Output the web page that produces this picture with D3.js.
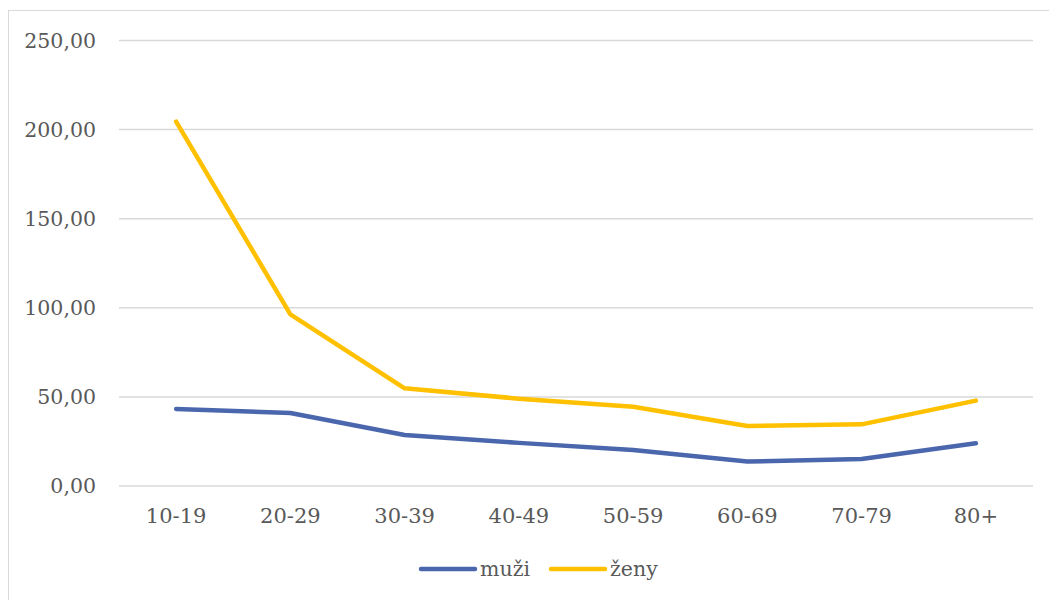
<!DOCTYPE html>
<html>
<head>
<meta charset="utf-8">
<script src="https://cdn.jsdelivr.net/npm/d3@7/dist/d3.min.js"></script>
<style>
  body { margin: 0; background: #fff; }
  text { font-family: "DejaVu Serif", serif; fill: #595959; }
</style>
</head>
<body>
<script>
// data
var ageGroups = ['10-19', '20-29', '30-39', '40-49', '50-59', '60-69', '70-79', '80+'];
var muzi = [43.2, 41.0, 28.6, 24.2, 20.2, 13.7, 15.1, 24.0];
var zeny = [204.5, 96.3, 54.8, 49.0, 44.5, 33.7, 34.6, 47.9];
var yTicks = [0, 50, 100, 150, 200, 250];

var width = 1049, height = 600;
var margin = { left: 119, right: 16, top: 40.5, bottom: 114 };

var svg = d3.select('body').append('svg')
    .attr('width', width)
    .attr('height', height);

// outer chart border
svg.append('rect')
    .attr('x', 8.5).attr('y', 10.5)
    .attr('width', 1100).attr('height', 700)
    .attr('fill', 'none')
    .attr('stroke', '#d9d9d9')
    .attr('stroke-width', 1);

var x = d3.scaleBand()
    .domain(ageGroups)
    .range([margin.left, width - margin.right]);

var y = d3.scaleLinear()
    .domain([0, 250])
    .range([height - margin.bottom, margin.top]);

// gridlines
svg.append('g')
    .selectAll('line')
    .data(yTicks)
    .enter().append('line')
    .attr('x1', margin.left)
    .attr('x2', width - margin.right)
    .attr('y1', function (d) { return y(d); })
    .attr('y2', function (d) { return y(d); })
    .attr('stroke', '#d9d9d9')
    .attr('stroke-width', 1.5);

// y axis labels
var fmt = function (d) { return d3.format('.2f')(d).replace('.', ','); };
var yAxis = d3.axisLeft(y).tickValues(yTicks).tickFormat(fmt).tickSize(0).tickPadding(23);
var gy = svg.append('g')
    .attr('transform', 'translate(' + margin.left + ',0)')
    .call(yAxis);
gy.select('.domain').remove();
gy.selectAll('text')
    .style('font-family', '"DejaVu Serif", serif')
    .style('font-size', '20.5px')
    .attr('fill', '#595959');

// x axis labels
var xAxis = d3.axisBottom(x).tickSize(0).tickPadding(22);
var gx = svg.append('g')
    .attr('transform', 'translate(0,' + y(0) + ')')
    .call(xAxis);
gx.select('.domain').remove();
gx.selectAll('text')
    .style('font-family', '"DejaVu Serif", serif')
    .style('font-size', '21px')
    .attr('fill', '#595959');

var line = d3.line()
    .x(function (d, i) { return x(ageGroups[i]) + x.bandwidth() / 2; })
    .y(function (d) { return y(d); });

var series = [
    { name: 'muži', values: muzi, color: '#4A66AC' },
    { name: 'ženy', values: zeny, color: '#FFC000' }
];

svg.selectAll('.series')
    .data(series)
    .enter().append('path')
    .attr('class', 'series')
    .attr('d', function (d) { return line(d.values); })
    .attr('fill', 'none')
    .attr('stroke', function (d) { return d.color; })
    .attr('stroke-width', 4.5)
    .attr('stroke-linecap', 'round')
    .attr('stroke-linejoin', 'round');

// legend
var legendX = [421, 551];
var lg = svg.selectAll('.legend')
    .data(series)
    .enter().append('g')
    .attr('class', 'legend')
    .attr('transform', function (d, i) { return 'translate(' + legendX[i] + ',569)'; });

lg.append('line')
    .attr('x1', 0).attr('x2', 54)
    .attr('stroke', function (d) { return d.color; })
    .attr('stroke-width', 4.5)
    .attr('stroke-linecap', 'round');

lg.append('text')
    .attr('x', 59)
    .attr('dy', '0.35em')
    .style('font-size', '20.5px')
    .text(function (d) { return d.name; });
</script>
</body>
</html>
